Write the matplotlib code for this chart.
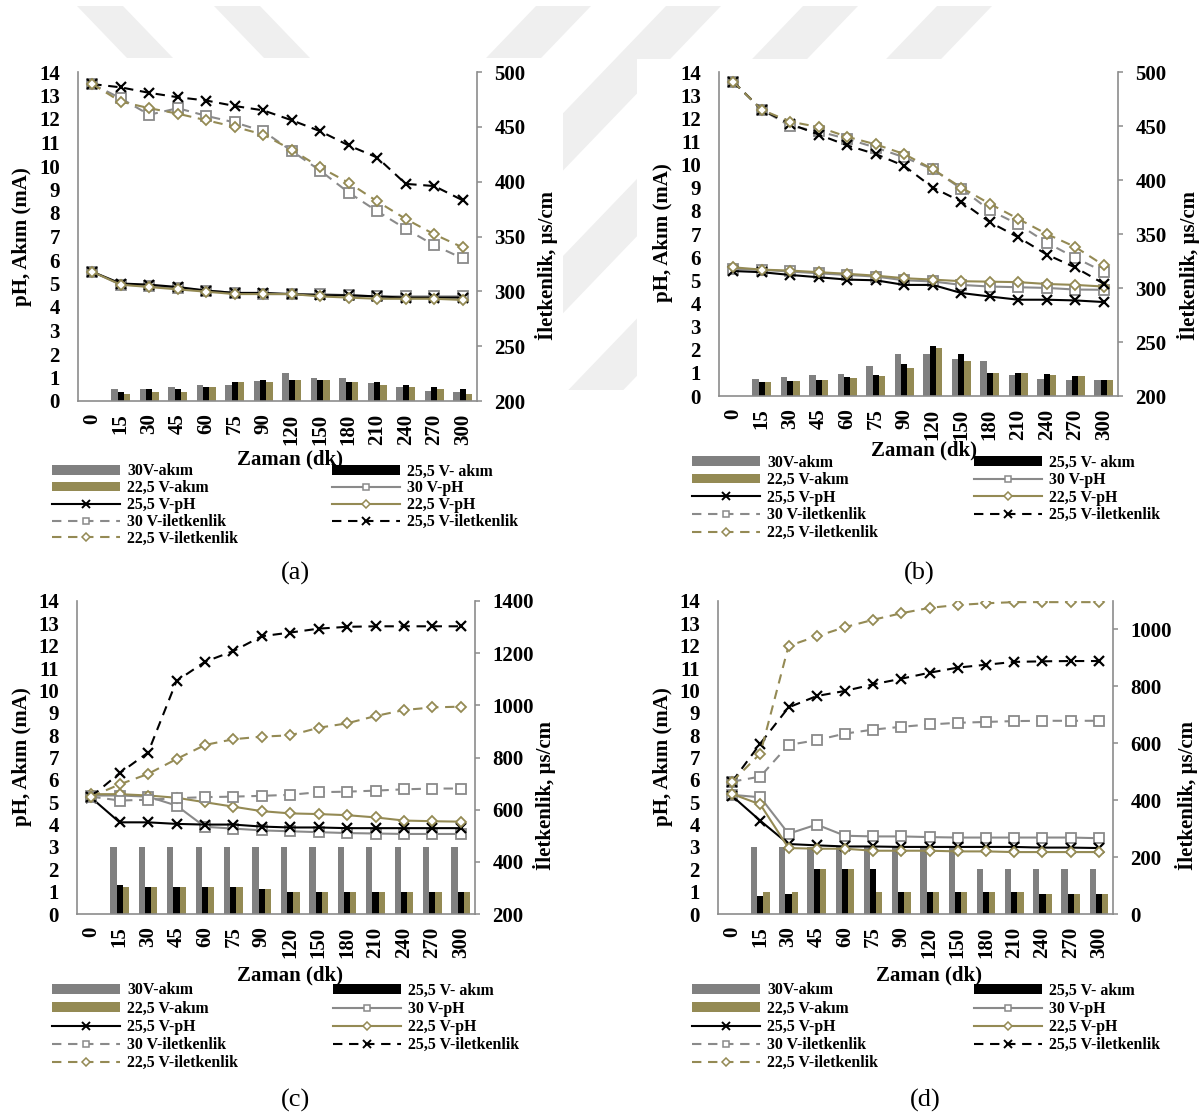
import matplotlib
matplotlib.use("Agg")
import matplotlib.pyplot as plt
from matplotlib.lines import Line2D
from matplotlib.patches import Patch, Polygon, Rectangle
import numpy as np

plt.rcParams["font.family"] = ["Liberation Serif", "DejaVu Serif"]
plt.rcParams["font.weight"] = "bold"

# ---------------------------------------------------------------- data
time_labels = ["0", "15", "30", "45", "60", "75", "90", "120", "150",
               "180", "210", "240", "270", "300"]

# (a)
a_akim_30 = [0, 0.5, 0.5, 0.6, 0.68, 0.7, 0.87, 1.2, 1.0, 1.0, 0.75, 0.6, 0.42, 0.38]
a_akim_255 = [0, 0.38, 0.5, 0.5, 0.58, 0.8, 0.9, 0.9, 0.9, 0.8, 0.8, 0.7, 0.6, 0.5]
a_akim_225 = [0, 0.28, 0.38, 0.38, 0.58, 0.8, 0.8, 0.9, 0.9, 0.8, 0.7, 0.6, 0.5, 0.28]
a_ph_30 = [5.5, 4.95, 4.9, 4.8, 4.7, 4.6, 4.55, 4.55, 4.55, 4.5, 4.45, 4.45, 4.45, 4.45]
a_ph_255 = [5.5, 5.0, 4.95, 4.85, 4.7, 4.6, 4.6, 4.55, 4.5, 4.5, 4.45, 4.4, 4.4, 4.4]
a_ph_225 = [5.5, 4.95, 4.85, 4.75, 4.65, 4.55, 4.55, 4.55, 4.45, 4.4, 4.35, 4.35, 4.35, 4.3]
a_cond_30 = [489, 476, 461, 467, 460, 454, 446, 428, 410, 390, 373, 357, 342, 330]
a_cond_255 = [489, 486, 481, 477, 474, 469, 465, 456, 446, 433, 422, 398, 396, 383]
a_cond_225 = [489, 473, 467, 462, 456, 450, 443, 429, 413, 399, 382, 366, 352, 340]

# (b)
b_akim_30 = [0, 0.75, 0.82, 0.89, 0.93, 1.29, 1.8, 1.8, 1.6, 1.5, 0.92, 0.73, 0.69, 0.69]
b_akim_255 = [0, 0.59, 0.65, 0.68, 0.82, 0.9, 1.39, 2.18, 1.8, 1.0, 1.0, 0.93, 0.86, 0.69]
b_akim_225 = [0, 0.59, 0.63, 0.68, 0.79, 0.86, 1.2, 2.08, 1.5, 1.0, 1.0, 0.9, 0.85, 0.68]
b_ph_30 = [5.5, 5.45, 5.38, 5.3, 5.23, 5.16, 5.0, 4.95, 4.8, 4.73, 4.7, 4.67, 4.6, 4.59]
b_ph_255 = [5.4, 5.35, 5.23, 5.13, 5.03, 5.0, 4.8, 4.8, 4.45, 4.3, 4.16, 4.16, 4.13, 4.06]
b_ph_225 = [5.56, 5.46, 5.42, 5.35, 5.28, 5.2, 5.09, 5.03, 4.96, 4.94, 4.92, 4.84, 4.8, 4.73]
b_cond_30 = [491, 465, 450, 445, 438, 430, 421, 410, 392, 372, 359, 342, 328, 315]
b_cond_255 = [491, 465, 452, 442, 432, 424, 413, 393, 380, 361, 347, 331, 319, 304]
b_cond_225 = [491, 465, 454, 449, 440, 433, 424, 410, 393, 378, 364, 350, 338, 321]

# (c)
c_akim_30 = [0, 3.0, 3.0, 3.0, 3.0, 3.0, 3.0, 3.0, 3.0, 3.0, 3.0, 3.0, 3.0, 3.0]
c_akim_255 = [0, 1.3, 1.2, 1.2, 1.2, 1.2, 1.1, 1.0, 1.0, 1.0, 1.0, 1.0, 1.0, 1.0]
c_akim_225 = [0, 1.2, 1.2, 1.2, 1.2, 1.2, 1.1, 1.0, 1.0, 1.0, 1.0, 1.0, 1.0, 1.0]
c_ph_30 = [5.3, 5.3, 5.25, 4.85, 3.9, 3.82, 3.74, 3.7, 3.66, 3.62, 3.6, 3.58, 3.58, 3.58]
c_ph_255 = [5.2, 4.1, 4.1, 4.03, 4.0, 4.0, 3.91, 3.87, 3.87, 3.84, 3.84, 3.84, 3.84, 3.84]
c_ph_225 = [5.36, 5.36, 5.3, 5.2, 5.0, 4.8, 4.6, 4.5, 4.47, 4.42, 4.32, 4.18, 4.15, 4.13]
c_cond_30 = [650, 635, 638, 644, 648, 650, 653, 657, 667, 669, 673, 678, 681, 681]
c_cond_255 = [650, 740, 819, 1093, 1167, 1208, 1265, 1279, 1294, 1301, 1303, 1303, 1303, 1303]
c_cond_225 = [650, 697, 737, 794, 848, 870, 880, 885, 914, 931, 959, 982, 992, 995]

# (d)
d_akim_30 = [0, 3.0, 3.0, 3.0, 3.0, 3.0, 3.0, 3.0, 3.0, 2.0, 2.0, 2.0, 2.0, 2.0]
d_akim_255 = [0, 0.8, 0.9, 2.0, 2.0, 2.0, 1.0, 1.0, 1.0, 1.0, 1.0, 0.9, 0.9, 0.9]
d_akim_225 = [0, 1.0, 1.0, 2.0, 2.0, 1.0, 1.0, 1.0, 1.0, 1.0, 1.0, 0.9, 0.9, 0.9]
d_ph_30 = [5.33, 5.22, 3.59, 4.0, 3.5, 3.47, 3.47, 3.44, 3.42, 3.42, 3.42, 3.42, 3.42, 3.39]
d_ph_255 = [5.28, 4.17, 3.13, 3.07, 3.02, 3.02, 3.0, 3.0, 3.0, 3.0, 3.0, 2.97, 2.97, 2.95]
d_ph_225 = [5.37, 4.9, 2.95, 2.92, 2.92, 2.83, 2.83, 2.83, 2.8, 2.8, 2.77, 2.77, 2.77, 2.77]
d_cond_30 = [465, 483, 594, 611, 634, 648, 658, 666, 672, 675, 678, 679, 679, 679]
d_cond_255 = [465, 599, 726, 766, 784, 807, 827, 848, 866, 876, 886, 888, 889, 889]
d_cond_225 = [465, 564, 942, 976, 1008, 1034, 1057, 1076, 1086, 1092, 1096, 1096, 1096, 1096]

legend_col1 = ["30V-akım", "22,5 V-akım", "25,5 V-pH", "30 V-iletkenlik", "22,5 V-iletkenlik"]
legend_col2 = ["25,5 V- akım", "30 V-pH", "22,5 V-pH", "25,5 V-iletkenlik"]

# ---------------------------------------------------------------- style
GREY_BAR = "#808080"
GREY_LINE = "#8a8a8a"
OLIVE = "#948A54"
SPINE = "#8c8c8c"
WM = "#efefef"
LW = 1.5
DASH = (0, (4.5, 3.2))
TICK_FS = 15
LABEL_FS = 15
LEG_FS = 11.4

W, H = 1200, 1120
fig = plt.figure(figsize=(W / 100, H / 100), dpi=100)


def fx(x):
    return x / W


def fy(y):
    return 1 - y / H


# faint background logo stripes behind the upper charts
def add_poly(pts, color, z):
    fig.add_artist(Polygon([(fx(x), fy(y)) for x, y in pts], closed=True,
                           transform=fig.transFigure, facecolor=color,
                           edgecolor="none", zorder=z))


for x0 in (77, 214):
    add_poly([(x0, 6), (x0 + 46, 6), (x0 + 96, 58), (x0 + 50, 58)], WM, -3)
for x0 in (536, 666, 803, 937):
    y1 = 390
    add_poly([(x0, 6), (x0 + 55, 6), (x0 + 55 - 0.96 * (y1 - 6), y1),
              (x0 - 0.96 * (y1 - 6), y1)], WM, -3)
for (l, t, r, b) in ((0, 58, 563, 560), (637, 59, 1200, 560)):
    fig.add_artist(Rectangle((fx(l), fy(b)), (r - l) / W, (b - t) / H,
                             transform=fig.transFigure, facecolor="white",
                             edgecolor="none", zorder=-2))

panels = [
    dict(tag="(a)", box=(78, 477, 72, 401),
         akim=(a_akim_30, a_akim_255, a_akim_225),
         ph=(a_ph_30, a_ph_255, a_ph_225),
         cond=(a_cond_30, a_cond_255, a_cond_225),
         ylim2=(200, 500), yticks2=[200, 250, 300, 350, 400, 450, 500],
         ylab=(22, 237), ylab2=(546, 266), xlab=(290, 459), tagpos=(295, 573),
         leg=(52, 332, 472, 0.05)),
    dict(tag="(b)", box=(719, 1118, 72, 396),
         akim=(b_akim_30, b_akim_255, b_akim_225),
         ph=(b_ph_30, b_ph_255, b_ph_225),
         cond=(b_cond_30, b_cond_255, b_cond_225),
         ylim2=(200, 500), yticks2=[200, 250, 300, 350, 400, 450, 500],
         ylab=(663, 233), ylab2=(1188, 266), xlab=(924, 450), tagpos=(919, 573),
         leg=(692, 974, 463, 0.1)),
    dict(tag="(c)", box=(77, 475, 601, 914),
         akim=(c_akim_30, c_akim_255, c_akim_225),
         ph=(c_ph_30, c_ph_255, c_ph_225),
         cond=(c_cond_30, c_cond_255, c_cond_225),
         ylim2=(200, 1400), yticks2=[200, 400, 600, 800, 1000, 1200, 1400],
         ylab=(22, 757), ylab2=(544, 796), xlab=(290, 975), tagpos=(295, 1100),
         leg=(52, 333, 991, 0.14)),
    dict(tag="(d)", box=(718, 1113, 601, 914),
         akim=(d_akim_30, d_akim_255, d_akim_225),
         ph=(d_ph_30, d_ph_255, d_ph_225),
         cond=(d_cond_30, d_cond_255, d_cond_225),
         ylim2=(0, 1100), yticks2=[0, 200, 400, 600, 800, 1000],
         ylab=(663, 757), ylab2=(1186, 795), xlab=(929, 975), tagpos=(925, 1100),
         leg=(692, 974, 991, 0.14)),
]

series_style = [
    dict(color=GREY_LINE, marker="s", ms=6.5, mfc="white", mec=GREY_LINE, mew=1.3),
    dict(color="black", marker="x", ms=7, mec="black", mew=1.6),
    dict(color=OLIVE, marker="D", ms=4.8, mfc="white", mec=OLIVE, mew=1.3),
]
legend_marker = [
    dict(color=GREY_LINE, marker="s", ms=5, mfc="white", mec=GREY_LINE, mew=1.1),
    dict(color="black", marker="x", ms=5.5, mec="black", mew=1.4),
    dict(color=OLIVE, marker="D", ms=3.8, mfc="white", mec=OLIVE, mew=1.1),
]
bar_colors = [GREY_BAR, "black", OLIVE]

# legend handles
h_bar = [Patch(facecolor=c, edgecolor="none") for c in bar_colors]
h_ph = [Line2D([], [], lw=LW, **s) for s in legend_marker]
h_cond = [Line2D([], [], lw=LW, ls=DASH, **s) for s in legend_marker]
col1_handles = [h_bar[0], h_bar[2], h_ph[1], h_cond[0], h_cond[2]]
col2_handles = [h_bar[1], h_ph[0], h_ph[2], h_cond[1]]

x = np.arange(len(time_labels))
bw = 0.22

for p in panels:
    l, r, t, b = p["box"]
    ax = fig.add_axes([fx(l), fy(b), (r - l) / W, (b - t) / H])
    for k, (vals, c) in enumerate(zip(p["akim"], bar_colors)):
        ax.bar(x + (k - 1) * bw, vals, bw, color=c, zorder=2, linewidth=0)
    for vals, s in zip(p["ph"], series_style):
        ax.plot(x, vals, lw=LW, zorder=3, **s)
    ax.set_xlim(-0.5, len(x) - 0.5)
    ax.set_ylim(0, 14)
    ax.set_yticks(range(15))
    ax.set_xticks(x)
    ax.set_xticklabels(time_labels, rotation=90)
    ax.tick_params(axis="y", length=0, labelsize=TICK_FS, pad=13)
    ax.tick_params(axis="x", length=0, labelsize=TICK_FS, pad=9)
    for side in ("top", "right"):
        ax.spines[side].set_visible(False)
    for side in ("left", "bottom"):
        ax.spines[side].set_color(SPINE)
        ax.spines[side].set_linewidth(1.2)

    ax2 = ax.twinx()
    for vals, s in zip(p["cond"], series_style):
        ax2.plot(x, vals, lw=LW, ls=DASH, zorder=3, **s)
    ax2.set_ylim(*p["ylim2"])
    ax2.set_yticks(p["yticks2"])
    ax2.tick_params(axis="y", direction="out", length=3.5, width=1.1,
                    color=SPINE, labelsize=TICK_FS, pad=9)
    for side in ("top", "left", "bottom"):
        ax2.spines[side].set_visible(False)
    ax2.spines["right"].set_color(SPINE)
    ax2.spines["right"].set_linewidth(1.2)

    fig.text(fx(p["ylab"][0]), fy(p["ylab"][1]), "pH, Akım (mA)", rotation=90,
             ha="center", va="center", fontsize=LABEL_FS, fontweight="bold")
    fig.text(fx(p["ylab2"][0]), fy(p["ylab2"][1]), "İletkenlik, µs/cm", rotation=90,
             ha="center", va="center", fontsize=LABEL_FS, fontweight="bold")
    fig.text(fx(p["xlab"][0]), fy(p["xlab"][1]), "Zaman (dk)",
             ha="center", va="center", fontsize=LABEL_FS, fontweight="bold")
    fig.text(fx(p["tagpos"][0]), fy(p["tagpos"][1]), p["tag"],
             ha="center", va="center", fontsize=19, fontweight="normal")

    c1x, c2x, row1, lsp = p["leg"]
    for cx, hs, labs in ((c1x, col1_handles, legend_col1),
                         (c2x, col2_handles, legend_col2)):
        fig.legend(hs, labs, loc="upper left",
                   bbox_to_anchor=(fx(cx), fy(row1 - 8.5)),
                   bbox_transform=fig.transFigure, frameon=False,
                   handlelength=4.3, handleheight=0.55,
                   handletextpad=0.45, labelspacing=lsp, borderpad=0,
                   borderaxespad=0, numpoints=1,
                   prop=dict(weight="bold", size=LEG_FS))

fig.savefig("out.png", dpi=100, facecolor="white")
